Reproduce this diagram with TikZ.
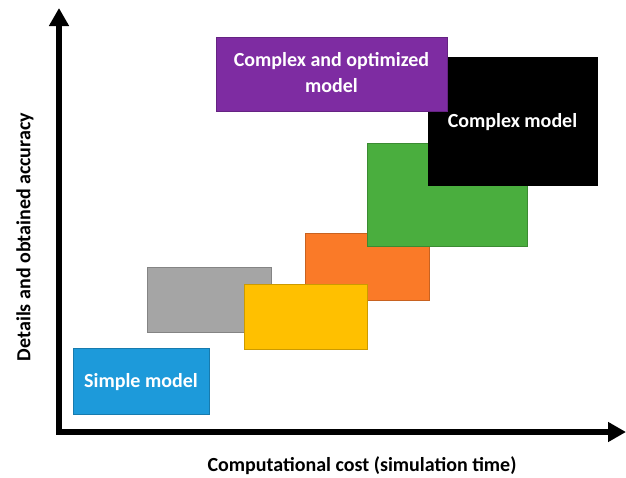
\documentclass[tikz,border=0pt]{standalone}
\usepackage{fontspec}
\setmainfont{Carlito}
\usetikzlibrary{arrows.meta}
\definecolor{cpurple}{HTML}{7E2CA2}
\definecolor{cgreen}{HTML}{4AAE3E}
\definecolor{corange}{HTML}{FA7A28}
\definecolor{cyellow}{HTML}{FFC000}
\definecolor{cgray}{HTML}{A5A5A5}
\definecolor{cblue}{HTML}{1D9ADA}
\begin{document}
\begin{tikzpicture}[x=1pt,y=-1pt,
  box/.style={draw=#1!80!black, line width=0.6pt, fill=#1},
  lbl/.style={font=\bfseries\fontsize{20}{26}\selectfont, text=white, align=center},
  axis/.style={line width=5.5pt, -{Triangle[length=18pt,width=19pt]}},
  axlbl/.style={font=\bfseries\fontsize{20}{24}\selectfont}]
\useasboundingbox (0,0) rectangle (626,477);
% axes
\coordinate (O) at (59,432);
\coordinate (Ytip) at (59,8);
\coordinate (Xtip) at (626,432);
\draw[axis] (59,434.75) -- (Ytip);
\draw[axis] (56.25,432) -- (Xtip);
% boxes
\path[box=cgray] (147,267) rectangle (271,332);
\path[box=corange] (305,233) rectangle (429,300);
\path[box=cyellow] (244,284) rectangle (367,349);
\path[box=cgreen] (367,143) rectangle (527,246);
\path[box=black] (428,57) rectangle (597,185);
\path[box=cpurple] (216,37) rectangle (447,111);
\path[box=cblue] (73,348) rectangle (209,414);
% labels
\node[lbl] (pur) at (331.5,73) {Complex and optimized\\model};
\node[lbl] (blk) at (512.5,122) {Complex model};
\node[lbl] (blu) at (141,382) {Simple model};
\node[axlbl] (xl) at (362,466) {Computational cost (simulation time)};
\node[axlbl, rotate=90] (yl) at (25,237) {Details and obtained accuracy};
\end{tikzpicture}
\end{document}
